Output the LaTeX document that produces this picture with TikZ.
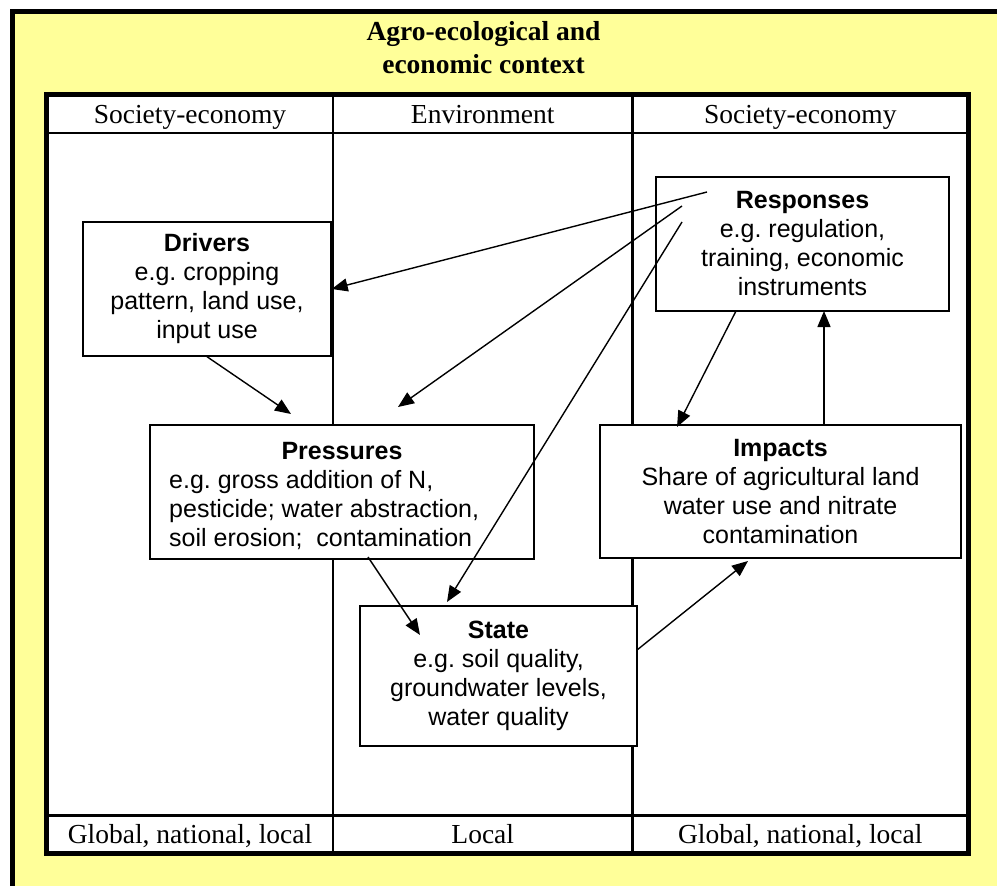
\documentclass[tikz,border=0pt]{standalone}
\usepackage{fontspec}
\setmainfont{Liberation Serif}
\newfontfamily\arialf{Liberation Sans}
\usetikzlibrary{arrows.meta}
\definecolor{bgyellow}{RGB}{255,255,153}
\frenchspacing
\begin{document}
\begin{tikzpicture}[x=1pt,y=-1pt,
  box/.style={draw=black,line width=1.4pt,fill=white,inner sep=0pt,align=center,
    font=\arialf\fontsize{25}{29}\selectfont},
  boxtext/.style={inner sep=0pt,font=\arialf\fontsize{25}{29}\selectfont},
  arr/.style={line width=1.4pt,-{Triangle[length=16pt,width=13pt]}},
  tlabel/.style={font=\fontsize{27.5}{33}\selectfont,anchor=base,inner sep=0pt},
  ttitle/.style={font=\fontsize{27.5}{33}\selectfont\bfseries,anchor=base,inner sep=0pt},
  thick frame/.style={line width=5pt},
  thin frame/.style={line width=2.5pt}]
\useasboundingbox (0,0) rectangle (997,886);
% background
\fill[bgyellow] (12,12) rectangle (997,886);
\draw[thick frame] (12.5,886) -- (12.5,11.5) -- (997,11.5);
% title
\node[ttitle] (t1) at (483.5,41) {Agro-ecological and};
\node[ttitle] (t2) at (483.5,73) {economic context};
% table
\fill[white] (46.5,94.5) rectangle (968,853.5);
\draw[thin frame] (46.5,133) -- (968,133);
\draw[thin frame] (46.5,815.5) -- (968,815.5);
\draw[thin frame] (333,94.5) -- (333,853.5);
\draw[thin frame] (632.5,94.5) -- (632.5,853.5);
\draw[thick frame] (46.5,94.5) rectangle (968,853.5);
\node[tlabel] (h1) at (190,123) {Society-economy};
\node[tlabel] (h2) at (482.75,123) {Environment};
\node[tlabel] (h3) at (800.25,123) {Society-economy};
\node[tlabel] (f1) at (190,843) {Global, national, local};
\node[tlabel] (f2) at (482.75,843) {Local};
\node[tlabel] (f3) at (800.25,843) {Global, national, local};
% boxes
\node[box,minimum width=248pt,minimum height=134pt] (drv) at (207,289)
  {\textbf{Drivers}\\e.g. cropping\\pattern, land use,\\input use};
\node[box,minimum width=293pt,minimum height=134pt] (resp) at (802.5,244)
  {\textbf{Responses}\\e.g. regulation,\\training, economic\\instruments};
\node[box,minimum width=384pt,minimum height=134pt] (press) at (342,492) {};
\node[boxtext,anchor=base] (presshead) at (342,459) {\textbf{Pressures}};
\node[boxtext,anchor=base west,align=left] (pressbody) at (169,546.5)
  {e.g. gross addition of N,\\pesticide; water abstraction,\\soil erosion;\ \ contamination};
\node[box,minimum width=361pt,minimum height=133pt] (imp) at (780.5,491.5)
  {\textbf{Impacts}\\Share of agricultural land\\water use and nitrate\\contamination};
\node[box,minimum width=277pt,minimum height=140pt] (state) at (498.5,676)
  {\textbf{State}\\e.g. soil quality,\\groundwater levels,\\water quality};
% connector points
\coordinate (r1) at (707,192);
\coordinate (r2) at (682,206);
\coordinate (r3) at (682,222);
\coordinate (pt1) at (398,407);
\coordinate (st1) at (447,602);
\coordinate (pt2) at (291,414);
\coordinate (ps1) at (368,557);
\coordinate (st2) at (420,635);
\coordinate (se) at (637,650);
\coordinate (ib) at (748,561);
\coordinate (rb) at (736,311);
\coordinate (it) at (677,427);
\coordinate (it2) at (824,425);
\coordinate (rb2) at (824,311);
% connectors
\draw[arr] (r1) -- (drv.east);
\draw[arr] (r2) -- (pt1);
\draw[arr] (r3) -- (st1);
\draw[arr] (drv.south) -- (pt2);
\draw[arr] (ps1) -- (st2);
\draw[arr] (se) -- (ib);
\draw[arr] (rb) -- (it);
\draw[arr] (it2) -- (rb2);
\end{tikzpicture}
\end{document}
